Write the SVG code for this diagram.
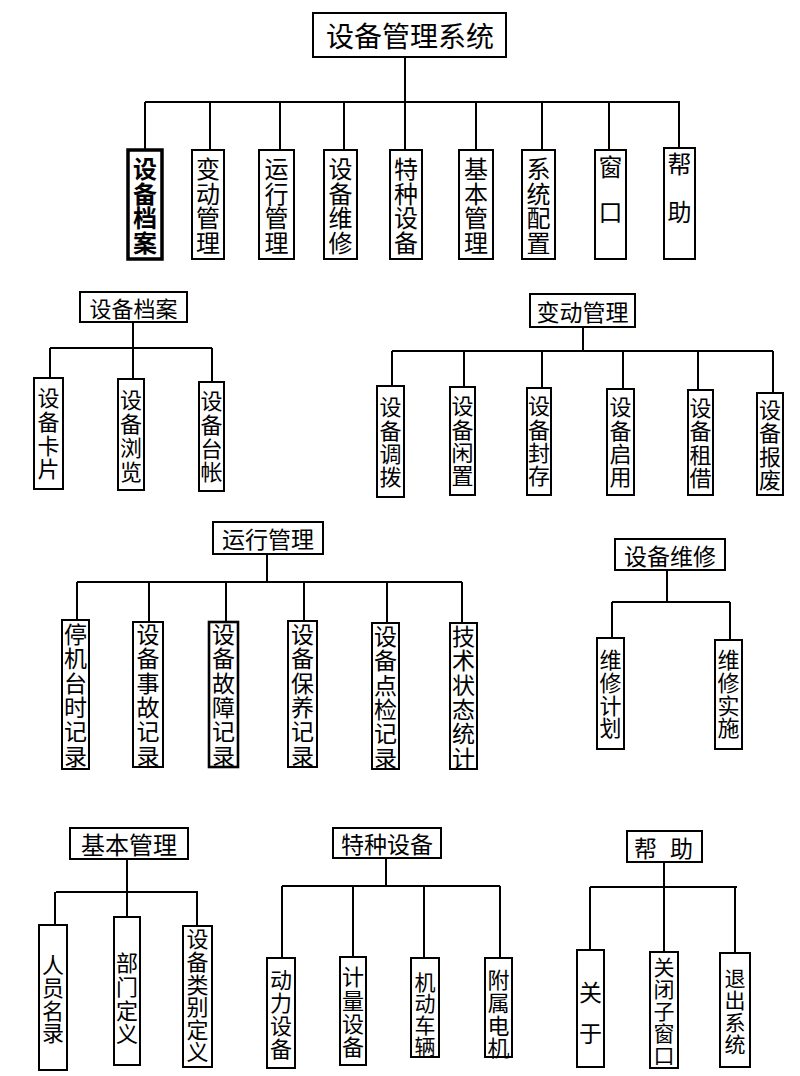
<svg xmlns="http://www.w3.org/2000/svg" width="800" height="1076" viewBox="0 0 800 1076">
<style>
.bg{fill:#fff}
.box{fill:#fff;stroke:#000;stroke-width:2}
.bold{stroke-width:3.5}
.t{font-family:"Noto Sans CJK SC","Noto Sans CJK JP",sans-serif;fill:#000;text-anchor:middle;dominant-baseline:central}
.v{font-family:"Noto Sans CJK SC","Noto Sans CJK JP",sans-serif;fill:#000;text-anchor:middle;writing-mode:vertical-rl}
.f28{font-size:28px}
.f24{font-size:24px}
.f23{font-size:23px}
.f22{font-size:22px}
.f21{font-size:21px}
.fb{font-weight:bold}
#connectors path{fill:none;stroke:#000;stroke-width:2}
</style>
<rect class="bg" x="0" y="0" width="800" height="1076"/>
<g id="connectors">
<path d="M405 57V102M145 102H680M145 102V150M210 102V150M280 102V150M344 102V150M405 102V150M476 102V150M542 102V150M609 102V150M679 102V148"/>
<path d="M133 322V348M50 348H212M50 348V378M133 348V379M212 348V382"/>
<path d="M583 327V351M392 351H773M392 351V386M464 351V387M542 351V388M623 351V389M698 351V390M773 351V393"/>
<path d="M267 554V582M77 582H462M77 582V620M149 582V622M226 582V622M304 582V621M387 582V623M462 582V623"/>
<path d="M667 570V602M612 602H730M612 602V638M730 602V640"/>
<path d="M127 859V917M56 892H198M55 892V925M197 892V926"/>
<path d="M386 858V886M282 886H500M282 886V958M353 886V957M424 886V958M500 886V958"/>
<path d="M664 862V952M590 887H737M590 887V950M735 887V953"/>
</g>
<g id="root"><rect class="box" x="313" y="13" width="193" height="44"/><text class="t f28" x="410" y="35">设备管理系统</text></g>
<g id="m1"><rect class="box bold" x="128" y="150" width="34" height="109"/><text class="v f24 fb" x="145" y="206" style="letter-spacing:0.5px">设备档案</text></g>
<g id="m2"><rect class="box" x="192" y="150" width="32" height="109"/><text class="v f24" x="208" y="206" style="letter-spacing:0.5px">变动管理</text></g>
<g id="m3"><rect class="box" x="259" y="150" width="35" height="109"/><text class="v f24" x="276.5" y="206" style="letter-spacing:0.5px">运行管理</text></g>
<g id="m4"><rect class="box" x="324" y="150" width="33" height="109"/><text class="v f24" x="340.5" y="206" style="letter-spacing:0.5px">设备维修</text></g>
<g id="m5"><rect class="box" x="390" y="150" width="32" height="109"/><text class="v f24" x="406" y="206" style="letter-spacing:0.5px">特种设备</text></g>
<g id="m6"><rect class="box" x="459" y="150" width="34" height="109"/><text class="v f24" x="476" y="206" style="letter-spacing:0.5px">基本管理</text></g>
<g id="m7"><rect class="box" x="522" y="150" width="33" height="109"/><text class="v f24" x="538.5" y="206" style="letter-spacing:0.5px">系统配置</text></g>
<g id="m8"><rect class="box" x="595" y="150" width="31" height="109"/><text class="v f24" x="610.5" y="200" style="letter-spacing:21px">窗口</text></g>
<g id="m9"><rect class="box" x="664" y="148" width="31" height="111"/><text class="v f24" x="679.5" y="200" style="letter-spacing:24px">帮助</text></g>

<g id="h1"><rect class="box" x="80" y="292" width="107" height="30"/><text class="t f22" x="133.5" y="307">设备档案</text></g>
<g id="a1"><rect class="box" x="34" y="378" width="29" height="111"/><text class="v f22" x="48.5" y="434.3" style="letter-spacing:1.7px">设备卡片</text></g>
<g id="a2"><rect class="box" x="118" y="379" width="26" height="111"/><text class="v f22" x="131" y="437" style="letter-spacing:2px">设备浏览</text></g>
<g id="a3"><rect class="box" x="199" y="382" width="25" height="109"/><text class="v f22" x="211.5" y="437.3" style="letter-spacing:1.7px">设备台帐</text></g>

<g id="h2"><rect class="box" x="530" y="294" width="105" height="33"/><text class="t f23" x="582.5" y="310.5">变动管理</text></g>
<g id="b1"><rect class="box" x="377" y="386" width="27" height="111"/><text class="v f22" x="390.5" y="442.7" style="letter-spacing:1.3px">设备调拨</text></g>
<g id="b2"><rect class="box" x="450" y="387" width="25" height="108"/><text class="v f22" x="462.5" y="441.7" style="letter-spacing:1.3px">设备闲置</text></g>
<g id="b3"><rect class="box" x="527" y="388" width="24" height="107"/><text class="v f22" x="539" y="441.7" style="letter-spacing:1.3px">设备封存</text></g>
<g id="b4"><rect class="box" x="607" y="389" width="27" height="106"/><text class="v f22" x="620.5" y="442.7" style="letter-spacing:1.3px">设备启用</text></g>
<g id="b5"><rect class="box" x="688" y="390" width="25" height="105"/><text class="v f22" x="700.5" y="443.2" style="letter-spacing:1.3px">设备租借</text></g>
<g id="b6"><rect class="box" x="757" y="393" width="26" height="102"/><text class="v f22" x="770" y="445.2" style="letter-spacing:1.3px">设备报废</text></g>

<g id="h3"><rect class="box" x="213" y="522" width="110" height="32"/><text class="t f23" x="268" y="538">运行管理</text></g>
<g id="c1"><rect class="box" x="62" y="620" width="27" height="149"/><text class="v f23" x="75.5" y="695.7" style="letter-spacing:1.4px">停机台时记录</text></g>
<g id="c2"><rect class="box" x="133" y="622" width="30" height="145"/><text class="v f23" x="148" y="695.7" style="letter-spacing:1.4px">设备事故记录</text></g>
<g id="c3"><rect class="box" x="209" y="622" width="29" height="145" style="stroke-width:2.6"/><text class="v f23" x="223.5" y="695.7" style="letter-spacing:1.4px">设备故障记录</text></g>
<g id="c4"><rect class="box" x="288" y="621" width="29" height="146"/><text class="v f23" x="302.5" y="695.7" style="letter-spacing:1.4px">设备保养记录</text></g>
<g id="c5"><rect class="box" x="372" y="623" width="27" height="146"/><text class="v f23" x="385.5" y="697.7" style="letter-spacing:1.4px">设备点检记录</text></g>
<g id="c6"><rect class="box" x="450" y="623" width="27" height="146"/><text class="v f23" x="463.5" y="697.7" style="letter-spacing:1.4px">技术状态统计</text></g>

<g id="h4"><rect class="box" x="615" y="539" width="110" height="31"/><text class="t f23" x="670" y="555">设备维修</text></g>
<g id="d1"><rect class="box" x="597" y="638" width="27" height="111"/><text class="v f22" x="610.5" y="694.3" style="letter-spacing:0.7px">维修计划</text></g>
<g id="d2"><rect class="box" x="715" y="640" width="27" height="109"/><text class="v f22" x="728.5" y="694.3" style="letter-spacing:0.7px">维修实施</text></g>

<g id="h5"><rect class="box" x="70" y="828" width="118" height="31"/><text class="t f24" x="129" y="843.5">基本管理</text></g>
<g id="e1"><rect class="box" x="39" y="925" width="28" height="145"/><text class="v f22" x="53" y="999.3" style="letter-spacing:0.7px">人员名录</text></g>
<g id="e2"><rect class="box" x="114" y="917" width="26" height="148"/><text class="v f22" x="127" y="999.3" style="letter-spacing:1.7px">部门定义</text></g>
<g id="e3"><rect class="box" x="183" y="926" width="29" height="141"/><text class="v f22" x="197.5" y="995.8" style="letter-spacing:0.6px">设备类别定义</text></g>

<g id="h6"><rect class="box" x="333" y="828" width="108" height="30"/><text class="t f23" x="387" y="843">特种设备</text></g>
<g id="g1"><rect class="box" x="267" y="958" width="28" height="110"/><text class="v f22" x="281" y="1015" style="letter-spacing:1px">动力设备</text></g>
<g id="g2"><rect class="box" x="340" y="957" width="26" height="108"/><text class="v f22" x="353" y="1012.7" style="letter-spacing:1.3px">计量设备</text></g>
<g id="g3"><rect class="box" x="411" y="958" width="28" height="99"/><text class="v f21" x="425" y="1014.2" style="letter-spacing:0.3px">机动车辆</text></g>
<g id="g4"><rect class="box" x="485" y="958" width="27" height="99"/><text class="v f22" x="498.5" y="1014.3" style="letter-spacing:0.7px">附属电机</text></g>

<g id="h7"><rect class="box" x="627" y="831" width="75" height="31"/><text class="t f23" x="670" y="846.5" style="letter-spacing:13px">帮助</text></g>
<g id="k1"><rect class="box" x="577" y="950" width="27" height="117"/><text class="v f23" x="590.5" y="1021.5" style="letter-spacing:18px">关于</text></g>
<g id="k2"><rect class="box" x="650" y="952" width="28" height="116"/><text class="v f21" x="664" y="1011.5" style="letter-spacing:1px">关闭子窗口</text></g>
<g id="k3"><rect class="box" x="720" y="953" width="30" height="114"/><text class="v f21" x="735" y="1011.5" style="letter-spacing:1px">退出系统</text></g>
</svg>
